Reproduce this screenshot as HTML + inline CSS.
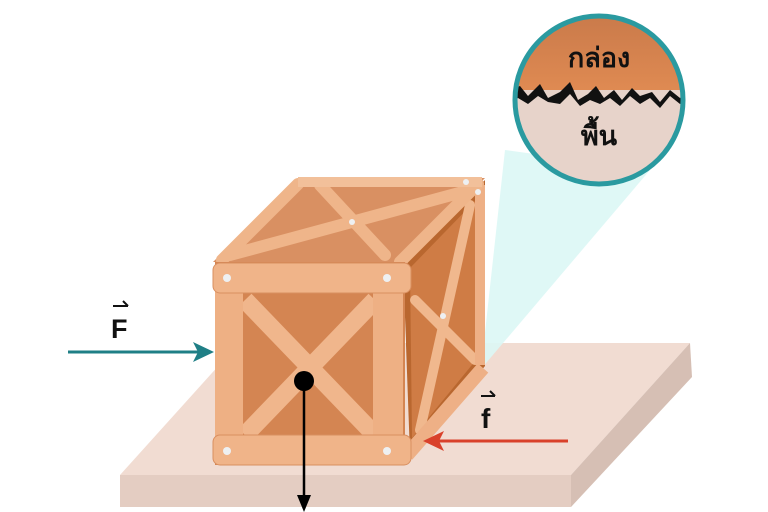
<!DOCTYPE html>
<html><head><meta charset="utf-8"><style>html,body{margin:0;padding:0;background:#fff}svg{display:block}</style></head>
<body>
<svg width="768" height="512" viewBox="0 0 768 512" xmlns="http://www.w3.org/2000/svg">
<!-- platform -->
<polygon points="239,343 690,343 571,475 120,475" fill="#f1dcd2"/>
<polygon points="120,475 571,475 571,507 120,507" fill="#e4cdc2"/>
<polygon points="690,343 692,377 571,507 571,475" fill="#d6bfb4"/>
<!-- cone -->
<polygon points="481,369 505,150 650,170" fill="#dcf7f5" opacity="0.9"/>
<!-- box right face -->
<polygon points="403,262 485,180 485,366 410,455" fill="#b9672f"/>
<polygon points="410,268 476,200 476,360 412,438" fill="#cf7c45"/>
<g stroke="#f0b88e" stroke-width="10" stroke-linecap="round">
<line x1="420" y1="430" x2="470" y2="205"/>
<line x1="415" y1="300" x2="475" y2="360"/>
</g>
<line x1="407" y1="455" x2="483" y2="368" stroke="#eeb086" stroke-width="14"/>
<line x1="480" y1="185" x2="480" y2="365" stroke="#eeb086" stroke-width="10"/>
<!-- top face -->
<polygon points="213,262 298,178 485,178 403,262" fill="#d99062"/>
<g stroke="#efb58a" stroke-width="12" stroke-linecap="round">
<line x1="230" y1="255" x2="470" y2="190"/>
<line x1="320" y1="185" x2="385" y2="255"/>
<line x1="298" y1="184" x2="222" y2="260"/>
<line x1="478" y1="184" x2="400" y2="262"/>
</g>
<line x1="298" y1="182" x2="482" y2="182" stroke="#f2c09a" stroke-width="10"/>
<!-- front face -->
<rect x="215" y="262" width="190" height="203" fill="#d48552"/>
<g stroke="#f0b68c" stroke-width="18" stroke-linecap="butt">
<line x1="245" y1="300" x2="375" y2="435"/>
<line x1="375" y1="300" x2="245" y2="435"/>
</g>
<rect x="215" y="290" width="28" height="148" fill="#eeb084"/>
<rect x="373" y="290" width="30" height="148" fill="#eeb084"/>
<rect x="213" y="263" width="198" height="30" rx="7" fill="#f0b489" stroke="#d98f60"/>
<rect x="213" y="435" width="198" height="30" rx="7" fill="#f0b489" stroke="#d98f60"/>
<g fill="#eef0f2">
<circle cx="227" cy="278" r="4"/><circle cx="387" cy="278" r="4"/>
<circle cx="227" cy="451" r="4"/><circle cx="387" cy="451" r="4"/>
<circle cx="352" cy="222" r="3"/><circle cx="443" cy="316" r="3"/>
<circle cx="466" cy="182" r="3"/><circle cx="478" cy="192" r="3"/>
</g>
<!-- magnifier -->
<defs><clipPath id="c"><circle cx="599" cy="100" r="84"/></clipPath>
<linearGradient id="g" x1="0" y1="0" x2="0" y2="1"><stop offset="0" stop-color="#c8794a"/><stop offset="1" stop-color="#df8a52"/></linearGradient></defs>
<g clip-path="url(#c)">
<rect x="510" y="10" width="180" height="180" fill="#e7d3ca"/>
<rect x="510" y="10" width="180" height="80" fill="url(#g)"/>
<polygon points="510,90 520,86 528,96 540,84 548,98 560,92 570,82 578,100 588,94 596,86 604,98 614,90 622,100 632,88 640,96 652,92 660,102 670,90 680,98 690,88 690,100 680,104 670,96 660,108 650,98 640,104 630,96 620,106 610,98 600,104 590,100 580,106 570,94 560,104 548,102 538,96 528,104 518,98 510,104" fill="#111"/>
</g>
<circle cx="599" cy="100" r="84" fill="none" stroke="#2a9aa0" stroke-width="5"/>
<text x="599" y="67" font-family="'Liberation Sans','Noto Sans CJK SC',sans-serif" font-weight="bold" font-size="27" text-anchor="middle" fill="#111">กล่อง</text>
<text x="599" y="145" font-family="'Liberation Sans','Noto Sans CJK SC',sans-serif" font-weight="bold" font-size="27" text-anchor="middle" fill="#111">พื้น</text>
<!-- forces -->
<line x1="68" y1="352" x2="198" y2="352" stroke="#1f7f86" stroke-width="3"/>
<polygon points="214,352 193,342 198,352 193,362" fill="#1f7f86"/>
<text x="111" y="338" font-family="'Liberation Sans',sans-serif" font-weight="bold" font-size="27" fill="#111">F</text>
<line x1="113" y1="306" x2="128" y2="306" stroke="#111" stroke-width="2"/>
<polyline points="123,301 128,306" fill="none" stroke="#111" stroke-width="2"/>
<line x1="568" y1="441" x2="438" y2="441" stroke="#d9412b" stroke-width="3"/>
<polygon points="423,441 444,431 439,441 444,451" fill="#d9412b"/>
<text x="481" y="428" font-family="'Liberation Sans',sans-serif" font-weight="bold" font-size="28" fill="#111">f</text>
<line x1="481" y1="396" x2="495" y2="396" stroke="#111" stroke-width="2"/>
<polyline points="490,391 495,396" fill="none" stroke="#111" stroke-width="2"/>
<circle cx="304" cy="381" r="10" fill="#000"/>
<line x1="304" y1="381" x2="304" y2="500" stroke="#000" stroke-width="2.5"/>
<polygon points="304,512 297,495 311,495" fill="#000"/>
</svg>
</body></html>
